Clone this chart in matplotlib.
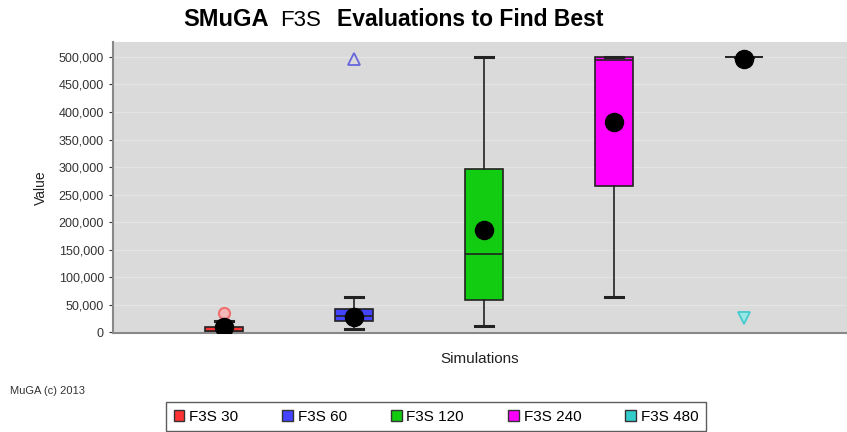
import matplotlib
matplotlib.use("Agg")
import matplotlib.pyplot as plt
import matplotlib.ticker as mticker
from matplotlib.patches import Patch

plt.rcParams['font.family'] = ['Liberation Sans', 'DejaVu Sans']

# data
series = ['F3S 30', 'F3S 60', 'F3S 120', 'F3S 240', 'F3S 480']
colors = ['#ff3333', '#4444ff', '#11cc11', '#ff00ff', '#33cccc']
q1 = [0, 20000, 58000, 265000, 500000]
median = [3000, 30000, 142000, 495000, 500000]
q3 = [9000, 43000, 296000, 500000, 500000]
whis_lo = [0, 6000, 11000, 64000, 500000]
whis_hi = [21000, 65000, 500000, 500000, 500000]
means = [10000, 28000, 185000, 382000, 497000]
outliers = [[36000], [], [], [], []]
far_high = [[], [497000], [], [], []]
far_low = [[], [], [], [], [27000]]

fig = plt.figure(figsize=(8.47, 4.32), dpi=100)
ax = fig.add_axes([113/847, 1 - 333/432, 1 - 113/847, (333 - 42)/432])
ax.set_facecolor('#dadada')

stats = []
for i in range(len(series)):
    stats.append({'q1': q1[i], 'med': median[i], 'q3': q3[i],
                  'whislo': whis_lo[i], 'whishi': whis_hi[i],
                  'fliers': [], 'label': series[i]})

pos = list(range(len(series)))
bp = ax.bxp(stats, positions=pos, widths=0.29, patch_artist=True,
            showfliers=False, manage_ticks=False,
            boxprops=dict(edgecolor='#222222', linewidth=1.2),
            medianprops=dict(color='#222222', linewidth=1.2),
            whiskerprops=dict(color='#222222', linewidth=1.2),
            capprops=dict(color='#222222', linewidth=2.2))
for patch, c in zip(bp['boxes'], colors):
    patch.set_facecolor(c)

ax.plot(pos, means, 'o', color='black', markersize=13, zorder=5)

for i in range(len(series)):
    if outliers[i]:
        ax.plot([pos[i]] * len(outliers[i]), outliers[i], 'o', mfc='#f4b8b8',
                mec='#f07070', markersize=8, mew=1.5, zorder=4)
    if far_high[i]:
        ax.plot([pos[i]] * len(far_high[i]), far_high[i], '^', mfc='none',
                mec='#6666dd', markersize=9, mew=1.3, zorder=4)
    if far_low[i]:
        ax.plot([pos[i]] * len(far_low[i]), far_low[i], 'v', mfc='#99e6e6',
                mec='#44cccc', markersize=9, mew=1.3, zorder=4)

ax.set_xlim(-0.854, 4.792)
ax.set_ylim(-1000, 527000)
ax.set_yticks(range(0, 500001, 50000))
ax.yaxis.set_major_formatter(mticker.FuncFormatter(lambda v, p: f'{int(v):,}'))
ax.tick_params(axis='y', labelsize=9, colors='#333333', length=3, width=0.8)
ax.set_xticks([])
ax.grid(axis='y', color='#e4e4e4', linewidth=1.0)
ax.set_axisbelow(True)
for s in ['top', 'right']:
    ax.spines[s].set_visible(False)
for s in ['left', 'bottom']:
    ax.spines[s].set_color('#888888')
    ax.spines[s].set_linewidth(1.5)

ax.set_ylabel('Value', fontsize=10, color='#222222', labelpad=8)
ax.set_xlabel('Simulations', fontsize=11, color='#222222', labelpad=14)

fig.text(183/847, 1 - 20/432, 'SMuGA', fontsize=17, fontweight='bold', va='center', ha='left')
fig.text(280/847, 1 - 20/432, 'F3S', fontsize=16, va='center', ha='left')
fig.text(337/847, 1 - 20/432, 'Evaluations to Find Best', fontsize=16.5, fontweight='bold',
         va='center', ha='left')

fig.text(10/847, 1 - 391/432, 'MuGA (c) 2013', fontsize=8, color='#333333', va='center')

handles = [Patch(facecolor=c, edgecolor='#333333', label=s) for s, c in zip(series, colors)]
fig.legend(handles=handles, loc='upper left', bbox_to_anchor=(166/847, 1 - 402/432),
           ncol=5, frameon=True, fancybox=False, edgecolor='#333333',
           handlelength=0.7, handleheight=0.7, handletextpad=0.3, columnspacing=2.9,
           borderpad=0.5, borderaxespad=0, prop={'size': 11})

fig.savefig('out.png', dpi=100)
